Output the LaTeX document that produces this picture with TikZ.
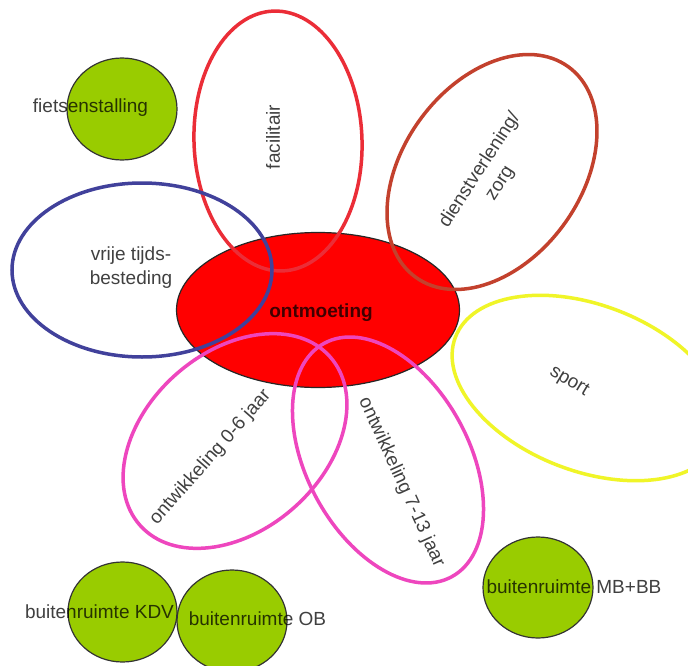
\documentclass[tikz,border=0pt]{standalone}
\usepackage{fontspec}
\setmainfont{Liberation Sans}
\usetikzlibrary{shapes.geometric}
\definecolor{facred}{RGB}{235,45,55}
\definecolor{zorgbrown}{RGB}{195,65,45}
\definecolor{vtblue}{RGB}{65,65,155}
\definecolor{sportyellow}{RGB}{240,245,40}
\definecolor{ontwmag}{RGB}{238,70,190}
\definecolor{leafgreen}{RGB}{153,204,0}
\begin{document}
\begin{tikzpicture}[x=1pt,y=-1pt,
  petal/.style={ellipse, draw, line width=3.5pt, inner sep=0pt, outer sep=0pt},
  grassball/.style={ellipse, draw=black!80, line width=1.2pt, fill=leafgreen, inner sep=0pt},
  lbl/.style={text=black, text opacity=0.75, inner sep=0pt, font=\fontsize{19}{24}\selectfont, align=center},
]
\fill[white] (0,0) rectangle (688,666);
\useasboundingbox (0,0) rectangle (688,666);

% green circles
\node[grassball, minimum width=110pt, minimum height=102pt] (fiets) at (122,109) {};
\node[grassball, minimum width=109pt, minimum height=100pt] (kdv) at (122.5,612) {};
\node[grassball, minimum width=110pt, minimum height=102pt] (ob) at (232,621) {};
\node[grassball, minimum width=110pt, minimum height=101pt] (mbbb) at (538,587.5) {};

% centre
\node[ellipse, draw=black!85, line width=1.2pt, fill=red, inner sep=0pt,
      minimum width=283pt, minimum height=155pt] (ontm) at (318,310) {};

% petals
\node[petal, draw=facred, minimum width=260pt, minimum height=168pt, rotate=92] (fac) at (278,141) {};
\node[petal, draw=zorgbrown, minimum width=260pt, minimum height=178pt, rotate=54] (zorg) at (492,172) {};
\node[petal, draw=vtblue, minimum width=260pt, minimum height=174pt] (vrij) at (142,270) {};
\node[petal, draw=sportyellow, minimum width=284pt, minimum height=166pt, rotate=-21] (sport) at (588,388) {};
\node[petal, draw=ontwmag, minimum width=254pt, minimum height=178pt, rotate=41.5] (jong) at (235,441) {};
\node[petal, draw=ontwmag, minimum width=266pt, minimum height=162pt, rotate=-61.3] (oud) at (388,460) {};

% labels
\node[lbl] (fietsT) at (90.5,108) {fietsenstalling};
\node[lbl] (kdvT) at (99.5,612) {buitenruimte KDV};
\node[lbl] (obT) at (257.5,619) {buitenruimte OB};
\node[lbl] (mbbbT) at (574,587) {buitenruimte MB+BB};
\node[lbl, font=\fontsize{19}{24}\selectfont\bfseries] (ontmT) at (321,313) {ontmoeting};
\node[lbl, rotate=90] (facT) at (273,137) {facilitair};
\node[lbl, rotate=57] (zorgT) at (490,176.5) {dienstverlening/\\zorg};
\node[lbl] (vrijT) at (131,268) {vrije tijds-\\besteding};
\node[lbl, rotate=-31] (sportT) at (569,381.5) {sport};
\node[lbl, rotate=48.7] (jongT) at (210.5,457.5) {ontwikkeling 0-6 jaar};
\node[lbl, rotate=-65.5] (oudT) at (401.5,482.5) {ontwikkeling 7-13 jaar};
\end{tikzpicture}
\end{document}
